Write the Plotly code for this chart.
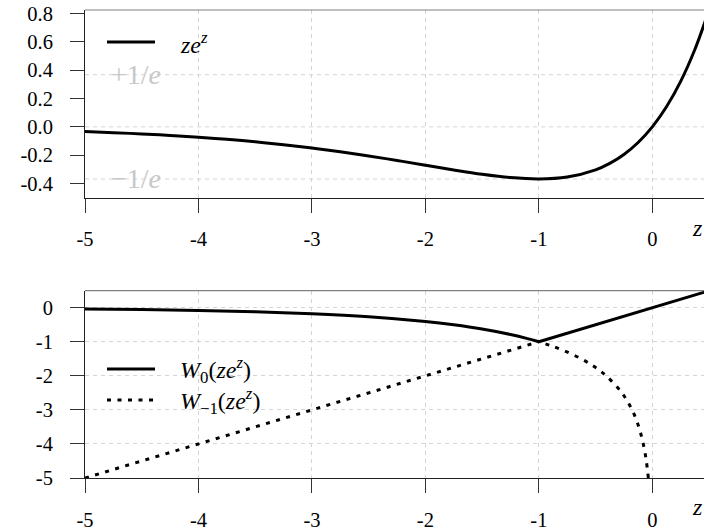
import plotly.graph_objects as go
from plotly.subplots import make_subplots

# ---- data -------------------------------------------------------------
# top panel: z*e^z sampled on [-5, 0.5]
z_top = [-5, -4.75, -4.5, -4.25, -4, -3.75, -3.5, -3.25, -3, -2.75, -2.5,
         -2.25, -2, -1.75, -1.5, -1.25, -1, -0.75, -0.5, -0.375, -0.25,
         -0.125, 0, 0.125, 0.25, 0.375, 0.5]
zez_top = [-0.0337, -0.0411, -0.0500, -0.0606, -0.0733, -0.0882, -0.1057,
           -0.1260, -0.1494, -0.1758, -0.2052, -0.2372, -0.2707, -0.3041,
           -0.3347, -0.3581, -0.3679, -0.3543, -0.3033, -0.2577, -0.1947,
           -0.1103, 0.0, 0.1416, 0.3210, 0.5456, 0.8244]

# bottom panel: the curved branch (z < -1 maps onto (-1, 0) and back)
z_branch = [-5, -4.5, -4, -3.5, -3, -2.5, -2, -1.75, -1.5, -1.25, -1.1, -1]
w_branch = [-0.0349, -0.0527, -0.0793, -0.1191, -0.1786, -0.2684, -0.4064,
            -0.5028, -0.6258, -0.786, -0.9066, -1]
# the identity part (W(ze^z) = z)
z_ident = [-5, -1, 0.5]

inv_e = 0.3679
grid_top_y = [inv_e, 0, -inv_e]

x_ticks = [-5, -4, -3, -2, -1, 0]
x_ticktext = ['-5', '-4', '-3', '-2', '-1', '0']
y_top_ticks = [0.8, 0.6, 0.4, 0.2, 0, -0.2, -0.4]
y_top_ticktext = ['0.8', '0.6', '0.4', '0.2', '0.0', '-0.2', '-0.4']
y_bot_ticks = [0, -1, -2, -3, -4, -5]
y_bot_ticktext = ['0', '-1', '-2', '-3', '-4', '-5']

# ---- figure -------------------------------------------------------------
W, H = 704, 531
ML, MT, MB = 85, 10, 53
PW, PH = W - ML, H - MT - MB
SERIF = 'Liberation Serif, serif'


def px_x(X):
    return (X - ML) / PW


def px_y(Y):
    return (H - MB - Y) / PH


fig = make_subplots(rows=2, cols=1, vertical_spacing=0.0)
fig.update_layout(
    xaxis=dict(domain=[0, 1]), xaxis2=dict(domain=[0, 1]),
    yaxis=dict(domain=[px_y(197.7), 1]),
    yaxis2=dict(domain=[0, px_y(290.7)]),
)

black = dict(color='black', width=3)

fig.add_trace(go.Scatter(x=z_top, y=zez_top, mode='lines',
                         line=dict(black, shape='spline'), showlegend=False),
              row=1, col=1)

dotted = dict(color='black', width=3, dash='4px,6.5px')
# W0
fig.add_trace(go.Scatter(x=z_branch, y=w_branch, mode='lines',
                         line=dict(black, shape='spline'), showlegend=False),
              row=2, col=1)
fig.add_trace(go.Scatter(x=z_ident[1:], y=z_ident[1:], mode='lines',
                         line=black, showlegend=False), row=2, col=1)
# W_-1
fig.add_trace(go.Scatter(x=z_ident[:2], y=z_ident[:2], mode='lines',
                         line=dotted, showlegend=False), row=2, col=1)
fig.add_trace(go.Scatter(x=w_branch, y=z_branch, mode='lines',
                         line=dict(dotted, shape='spline'), showlegend=False),
              row=2, col=1)

grid = dict(color='#d4d4d4', width=1, dash='4px,4px')
font = dict(family=SERIF, size=20.5, color='black')
axis_common = dict(showline=True, linecolor='#222', linewidth=1,
                   ticks='outside', ticklen=14, tickcolor='#333', tickwidth=1,
                   zeroline=False, tickfont=font, automargin=False)

for r in (1, 2):
    fig.update_xaxes(range=[-5, -5 + PW / 113.46], tickvals=x_ticks,
                     ticktext=x_ticktext, showgrid=True, gridcolor='#d4d4d4',
                     griddash='4px,4px', gridwidth=1, ticklabelstandoff=9,
                     **axis_common, row=r, col=1)

fig.update_yaxes(range=[-0.5, 0.8244], tickvals=y_top_ticks,
                 ticktext=y_top_ticktext, showgrid=False, ticklabelstandoff=13,
                 **axis_common, row=1, col=1)
fig.update_yaxes(range=[-5, 0.5], tickvals=y_bot_ticks,
                 ticktext=y_bot_ticktext, showgrid=True, gridcolor='#d4d4d4',
                 griddash='4px,4px', gridwidth=1, ticklabelstandoff=13,
                 **axis_common, row=2, col=1)

shapes = []
for gy in grid_top_y:
    shapes.append(dict(type='line', xref='x domain', yref='y', x0=0, x1=1,
                       y0=gy, y1=gy, line=grid, layer='below'))
# top borders (gray)
for xr, yr in (('x domain', 'y domain'), ('x2 domain', 'y2 domain')):
    shapes.append(dict(type='line', xref=xr, yref=yr, x0=0, x1=1, y0=1, y1=1,
                       line=dict(color='#808080', width=1.2)))

# legends (drawn by hand)
leg_font = dict(family=SERIF, size=24, color='black')
legend_rows = [
    (42, dict(color='black', width=3), '<i>ze</i><sup><i>z</i></sup>'),
    (369, dict(color='black', width=3),
     '<i>W</i><sub>0</sub>(<i>ze</i><sup><i>z</i></sup>)'),
    (400, dict(color='black', width=3, dash='4px,6.5px'),
     '<i>W</i><sub>−1</sub>(<i>ze</i><sup><i>z</i></sup>)'),
]
annotations = []
for Y, ln, txt in legend_rows:
    shapes.append(dict(type='line', xref='paper', yref='paper',
                       x0=px_x(107), x1=px_x(155), y0=px_y(Y), y1=px_y(Y),
                       line=ln))
    annotations.append(dict(x=px_x(178), y=px_y(Y + 1), xref='paper',
                            yref='paper', text=txt, showarrow=False,
                            xanchor='left', yanchor='middle', font=leg_font))

gray_font = dict(family=SERIF, size=28, color='#c8c8c8')
annotations.append(dict(x=-4.55, y=inv_e, xref='x', yref='y',
                        text='+1/<i>e</i>', showarrow=False,
                        xanchor='center', yanchor='middle', font=gray_font))
annotations.append(dict(x=-4.55, y=-inv_e, xref='x', yref='y',
                        text='−1/<i>e</i>', showarrow=False,
                        xanchor='center', yanchor='middle', font=gray_font))

# axis name "z", sitting at the far right, cut by the page edge
for Y in (228, 507):
    annotations.append(dict(x=px_x(690), y=px_y(Y), xref='paper',
                            yref='paper', text='<i>z</i>', showarrow=False,
                            xanchor='left', yanchor='middle',
                            font=dict(family=SERIF, size=24, color='black')))

fig.update_layout(
    width=W, height=H,
    margin=dict(l=ML, r=0, t=MT, b=MB),
    plot_bgcolor='white', paper_bgcolor='white',
    shapes=shapes, annotations=annotations,
    showlegend=False,
)

fig.write_html("out.html", config={'displayModeBar': False},
               post_script="document.body.style.margin='0';"
                           "document.body.style.overflow='hidden';")
